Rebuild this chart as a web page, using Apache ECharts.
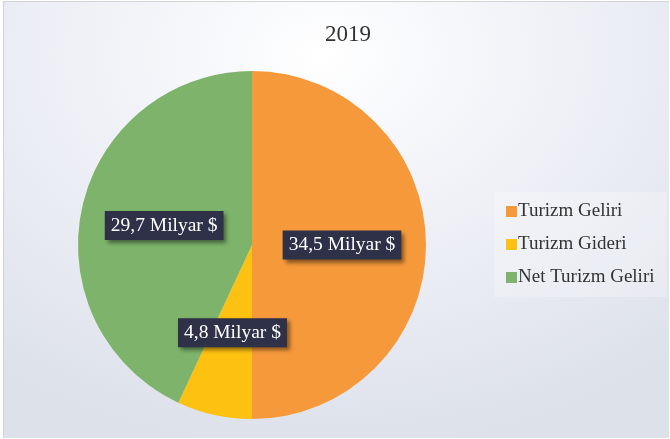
<!DOCTYPE html>
<html>
<head>
<meta charset="utf-8">
<script src="https://cdn.jsdelivr.net/npm/echarts@6/dist/echarts.min.js"></script>
<style>
  html, body { margin: 0; padding: 0; background: #fff; }
  #chart {
    position: absolute; left: 3px; top: 1px;
    width: 665px; height: 436px;
    border: 1px solid #d3d3d3;
    border-right: none; border-bottom: none;
    background: radial-gradient(ellipse 80% 90% at 48% 12%, #ffffff 0%, #f2f4f9 35%, #dde1ea 100%);
  }
</style>
</head>
<body>
<div id="chart"></div>
<script>
// veriler
var titleText = "2019";
var categories = ["Turizm Geliri", "Turizm Gideri", "Net Turizm Geliri"];
var values = [34.5, 4.8, 29.7];
var colors = ["#F6993B", "#FDC112", "#7DB36B"];

var chartDom = document.getElementById("chart");
var myChart = echarts.init(chartDom);
var option;

var data = categories.map(function (name, i) {
  return { name: name, value: values[i], itemStyle: { color: colors[i] } };
});

option = {
  animation: false,
  title: {
    text: titleText,
    left: 316,
    top: 16,
    textStyle: {
      fontFamily: "Liberation Serif",
      fontWeight: "normal",
      fontSize: 23,
      color: "#333"
    }
  },
  legend: {
    orient: "vertical",
    left: 490,
    top: 190,
    padding: [10, 12, 10, 12],
    backgroundColor: "rgba(255,255,255,0.25)",
    itemWidth: 11,
    itemHeight: 11,
    itemGap: 14,
    icon: "rect",
    data: categories,
    textStyle: {
      fontFamily: "Liberation Serif",
      fontSize: 19,
      color: "#333",
      padding: [0, 0, 0, -4]
    }
  },
  series: [
    {
      type: "pie",
      center: [248, 243],
      radius: 174,
      startAngle: 90,
      clockwise: true,
      data: data,
      itemStyle: { borderWidth: 0 },
      label: {
        show: true,
        position: "inside",
        formatter: function (p) {
          return String(p.value).replace(".", ",") + " Milyar $";
        },
        fontFamily: "Liberation Serif",
        fontSize: 19.5,
        color: "#fff",
        backgroundColor: "#2f3149",
        padding: [5, 6, 4, 6],
        shadowColor: "rgba(0,0,0,0.45)",
        shadowBlur: 4,
        shadowOffsetX: 3,
        shadowOffsetY: 3
      },
      labelLine: { show: false }
    }
  ]
};

option && myChart.setOption(option);
</script>
</body>
</html>
